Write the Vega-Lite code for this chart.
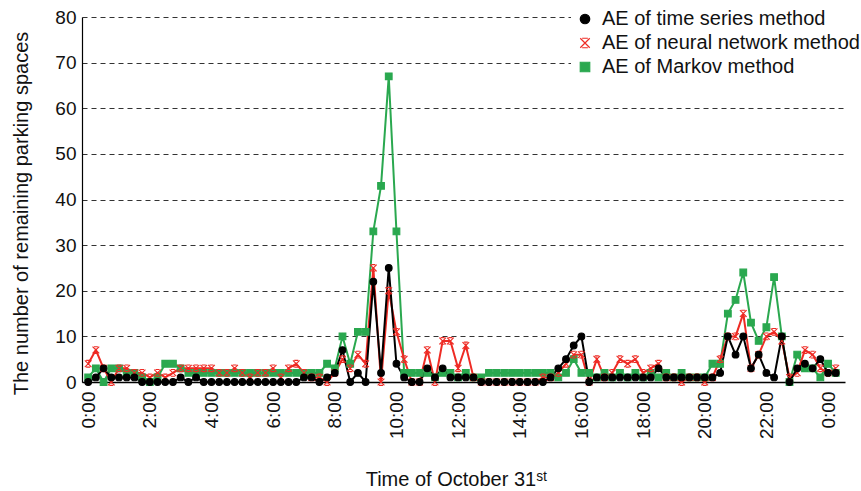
{
"$schema": "https://vega.github.io/schema/vega-lite/v6.json",
"width": 763, "height": 365,
"autosize": {"type": "none"},
"padding": {"left": 82, "top": 17, "right": 16, "bottom": 109},
"background": "white",
"config": {"view": {"stroke": null}, "font": "Liberation Sans",
  "axis": {"labelColor": "#111", "titleColor": "#111", "labelFont": "Liberation Sans", "titleFont": "Liberation Sans", "titleFontWeight": "normal"}},
"data": {"values": [
{"t":0,"m":"M","v":1},{"t":0.25,"m":"M","v":3},{"t":0.5,"m":"M","v":0},{"t":0.75,"m":"M","v":3},{"t":1,"m":"M","v":3},{"t":1.25,"m":"M","v":2},{"t":1.5,"m":"M","v":2},{"t":1.75,"m":"M","v":1},{"t":2,"m":"M","v":0},{"t":2.25,"m":"M","v":1},
{"t":2.5,"m":"M","v":4},{"t":2.75,"m":"M","v":4},{"t":3,"m":"M","v":3},{"t":3.25,"m":"M","v":2},{"t":3.5,"m":"M","v":2},{"t":3.75,"m":"M","v":2},{"t":4,"m":"M","v":2},{"t":4.25,"m":"M","v":2},{"t":4.5,"m":"M","v":2},{"t":4.75,"m":"M","v":2},
{"t":5,"m":"M","v":2},{"t":5.25,"m":"M","v":2},{"t":5.5,"m":"M","v":2},{"t":5.75,"m":"M","v":2},{"t":6,"m":"M","v":2},{"t":6.25,"m":"M","v":2},{"t":6.5,"m":"M","v":2},{"t":6.75,"m":"M","v":2},{"t":7,"m":"M","v":2},{"t":7.25,"m":"M","v":2},
{"t":7.5,"m":"M","v":2},{"t":7.75,"m":"M","v":4},{"t":8,"m":"M","v":3},{"t":8.25,"m":"M","v":10},{"t":8.5,"m":"M","v":4},{"t":8.75,"m":"M","v":11},{"t":9,"m":"M","v":11},{"t":9.25,"m":"M","v":33},{"t":9.5,"m":"M","v":43},{"t":9.75,"m":"M","v":67},
{"t":10,"m":"M","v":33},{"t":10.25,"m":"M","v":2},{"t":10.5,"m":"M","v":2},{"t":10.75,"m":"M","v":2},{"t":11,"m":"M","v":2},{"t":11.25,"m":"M","v":1},{"t":11.5,"m":"M","v":2},{"t":11.75,"m":"M","v":2},{"t":12,"m":"M","v":1},{"t":12.25,"m":"M","v":2},
{"t":12.5,"m":"M","v":1},{"t":12.75,"m":"M","v":1},{"t":13,"m":"M","v":2},{"t":13.25,"m":"M","v":2},{"t":13.5,"m":"M","v":2},{"t":13.75,"m":"M","v":2},{"t":14,"m":"M","v":2},{"t":14.25,"m":"M","v":2},{"t":14.5,"m":"M","v":2},{"t":14.75,"m":"M","v":2},
{"t":15,"m":"M","v":2},{"t":15.25,"m":"M","v":1},{"t":15.5,"m":"M","v":2},{"t":15.75,"m":"M","v":5},{"t":16,"m":"M","v":2},{"t":16.25,"m":"M","v":2},{"t":16.5,"m":"M","v":1},{"t":16.75,"m":"M","v":2},{"t":17,"m":"M","v":1},{"t":17.25,"m":"M","v":2},
{"t":17.5,"m":"M","v":1},{"t":17.75,"m":"M","v":2},{"t":18,"m":"M","v":1},{"t":18.25,"m":"M","v":2},{"t":18.5,"m":"M","v":1},{"t":18.75,"m":"M","v":2},{"t":19,"m":"M","v":1},{"t":19.25,"m":"M","v":2},{"t":19.5,"m":"M","v":1},{"t":19.75,"m":"M","v":1},
{"t":20,"m":"M","v":1},{"t":20.25,"m":"M","v":4},{"t":20.5,"m":"M","v":4},{"t":20.75,"m":"M","v":15},{"t":21,"m":"M","v":18},{"t":21.25,"m":"M","v":24},{"t":21.5,"m":"M","v":13},{"t":21.75,"m":"M","v":9},{"t":22,"m":"M","v":12},{"t":22.25,"m":"M","v":23},
{"t":22.5,"m":"M","v":10},{"t":22.75,"m":"M","v":0},{"t":23,"m":"M","v":6},{"t":23.25,"m":"M","v":3},{"t":23.5,"m":"M","v":3},{"t":23.75,"m":"M","v":1},{"t":24,"m":"M","v":4},{"t":24.25,"m":"M","v":2},
{"t":0,"m":"N","v":4},{"t":0.25,"m":"N","v":7},{"t":0.5,"m":"N","v":3},{"t":0.75,"m":"N","v":0},{"t":1,"m":"N","v":3},{"t":1.25,"m":"N","v":3},{"t":1.5,"m":"N","v":2},{"t":1.75,"m":"N","v":2},{"t":2,"m":"N","v":1},{"t":2.25,"m":"N","v":2},
{"t":2.5,"m":"N","v":1},{"t":2.75,"m":"N","v":2},{"t":3,"m":"N","v":3},{"t":3.25,"m":"N","v":3},{"t":3.5,"m":"N","v":3},{"t":3.75,"m":"N","v":3},{"t":4,"m":"N","v":3},{"t":4.25,"m":"N","v":2},{"t":4.5,"m":"N","v":2},{"t":4.75,"m":"N","v":3},
{"t":5,"m":"N","v":2},{"t":5.25,"m":"N","v":1},{"t":5.5,"m":"N","v":2},{"t":5.75,"m":"N","v":2},{"t":6,"m":"N","v":3},{"t":6.25,"m":"N","v":1},{"t":6.5,"m":"N","v":3},{"t":6.75,"m":"N","v":4},{"t":7,"m":"N","v":2},{"t":7.25,"m":"N","v":1},
{"t":7.5,"m":"N","v":1},{"t":7.75,"m":"N","v":0},{"t":8,"m":"N","v":2},{"t":8.25,"m":"N","v":5},{"t":8.5,"m":"N","v":3},{"t":8.75,"m":"N","v":6},{"t":9,"m":"N","v":4},{"t":9.25,"m":"N","v":25},{"t":9.5,"m":"N","v":0},{"t":9.75,"m":"N","v":20},
{"t":10,"m":"N","v":11},{"t":10.25,"m":"N","v":5},{"t":10.5,"m":"N","v":0},{"t":10.75,"m":"N","v":0},{"t":11,"m":"N","v":7},{"t":11.25,"m":"N","v":0},{"t":11.5,"m":"N","v":9},{"t":11.75,"m":"N","v":9},{"t":12,"m":"N","v":3},{"t":12.25,"m":"N","v":8},
{"t":12.5,"m":"N","v":1},{"t":12.75,"m":"N","v":0},{"t":13,"m":"N","v":0},{"t":13.25,"m":"N","v":0},{"t":13.5,"m":"N","v":0},{"t":13.75,"m":"N","v":0},{"t":14,"m":"N","v":0},{"t":14.25,"m":"N","v":0},{"t":14.5,"m":"N","v":0},{"t":14.75,"m":"N","v":1},
{"t":15,"m":"N","v":1},{"t":15.25,"m":"N","v":2},{"t":15.5,"m":"N","v":4},{"t":15.75,"m":"N","v":6},{"t":16,"m":"N","v":6},{"t":16.25,"m":"N","v":0},{"t":16.5,"m":"N","v":5},{"t":16.75,"m":"N","v":1},{"t":17,"m":"N","v":2},{"t":17.25,"m":"N","v":5},
{"t":17.5,"m":"N","v":4},{"t":17.75,"m":"N","v":5},{"t":18,"m":"N","v":2},{"t":18.25,"m":"N","v":3},{"t":18.5,"m":"N","v":4},{"t":18.75,"m":"N","v":1},{"t":19,"m":"N","v":1},{"t":19.25,"m":"N","v":0},{"t":19.5,"m":"N","v":1},{"t":19.75,"m":"N","v":1},
{"t":20,"m":"N","v":0},{"t":20.25,"m":"N","v":1},{"t":20.5,"m":"N","v":5},{"t":20.75,"m":"N","v":10},{"t":21,"m":"N","v":10},{"t":21.25,"m":"N","v":15},{"t":21.5,"m":"N","v":3},{"t":21.75,"m":"N","v":6},{"t":22,"m":"N","v":10},{"t":22.25,"m":"N","v":11},
{"t":22.5,"m":"N","v":9},{"t":22.75,"m":"N","v":1},{"t":23,"m":"N","v":2},{"t":23.25,"m":"N","v":7},{"t":23.5,"m":"N","v":6},{"t":23.75,"m":"N","v":3},{"t":24,"m":"N","v":2},{"t":24.25,"m":"N","v":3},
{"t":0,"m":"T","v":0},{"t":0.25,"m":"T","v":1},{"t":0.5,"m":"T","v":3},{"t":0.75,"m":"T","v":1},{"t":1,"m":"T","v":1},{"t":1.25,"m":"T","v":1},{"t":1.5,"m":"T","v":1},{"t":1.75,"m":"T","v":0},{"t":2,"m":"T","v":0},{"t":2.25,"m":"T","v":0},
{"t":2.5,"m":"T","v":0},{"t":2.75,"m":"T","v":0},{"t":3,"m":"T","v":1},{"t":3.25,"m":"T","v":0},{"t":3.5,"m":"T","v":1},{"t":3.75,"m":"T","v":0},{"t":4,"m":"T","v":0},{"t":4.25,"m":"T","v":0},{"t":4.5,"m":"T","v":0},{"t":4.75,"m":"T","v":0},
{"t":5,"m":"T","v":0},{"t":5.25,"m":"T","v":0},{"t":5.5,"m":"T","v":0},{"t":5.75,"m":"T","v":0},{"t":6,"m":"T","v":0},{"t":6.25,"m":"T","v":0},{"t":6.5,"m":"T","v":0},{"t":6.75,"m":"T","v":0},{"t":7,"m":"T","v":1},{"t":7.25,"m":"T","v":1},
{"t":7.5,"m":"T","v":0},{"t":7.75,"m":"T","v":1},{"t":8,"m":"T","v":2},{"t":8.25,"m":"T","v":7},{"t":8.5,"m":"T","v":0},{"t":8.75,"m":"T","v":2},{"t":9,"m":"T","v":0},{"t":9.25,"m":"T","v":22},{"t":9.5,"m":"T","v":2},{"t":9.75,"m":"T","v":25},
{"t":10,"m":"T","v":4},{"t":10.25,"m":"T","v":1},{"t":10.5,"m":"T","v":0},{"t":10.75,"m":"T","v":0},{"t":11,"m":"T","v":3},{"t":11.25,"m":"T","v":1},{"t":11.5,"m":"T","v":3},{"t":11.75,"m":"T","v":1},{"t":12,"m":"T","v":1},{"t":12.25,"m":"T","v":1},
{"t":12.5,"m":"T","v":1},{"t":12.75,"m":"T","v":0},{"t":13,"m":"T","v":0},{"t":13.25,"m":"T","v":0},{"t":13.5,"m":"T","v":0},{"t":13.75,"m":"T","v":0},{"t":14,"m":"T","v":0},{"t":14.25,"m":"T","v":0},{"t":14.5,"m":"T","v":0},{"t":14.75,"m":"T","v":0},
{"t":15,"m":"T","v":1},{"t":15.25,"m":"T","v":3},{"t":15.5,"m":"T","v":5},{"t":15.75,"m":"T","v":8},{"t":16,"m":"T","v":10},{"t":16.25,"m":"T","v":0},{"t":16.5,"m":"T","v":1},{"t":16.75,"m":"T","v":1},{"t":17,"m":"T","v":1},{"t":17.25,"m":"T","v":1},
{"t":17.5,"m":"T","v":1},{"t":17.75,"m":"T","v":1},{"t":18,"m":"T","v":1},{"t":18.25,"m":"T","v":1},{"t":18.5,"m":"T","v":3},{"t":18.75,"m":"T","v":1},{"t":19,"m":"T","v":1},{"t":19.25,"m":"T","v":1},{"t":19.5,"m":"T","v":1},{"t":19.75,"m":"T","v":1},
{"t":20,"m":"T","v":1},{"t":20.25,"m":"T","v":1},{"t":20.5,"m":"T","v":2},{"t":20.75,"m":"T","v":10},{"t":21,"m":"T","v":6},{"t":21.25,"m":"T","v":10},{"t":21.5,"m":"T","v":3},{"t":21.75,"m":"T","v":6},{"t":22,"m":"T","v":2},{"t":22.25,"m":"T","v":1},
{"t":22.5,"m":"T","v":10},{"t":22.75,"m":"T","v":0},{"t":23,"m":"T","v":3},{"t":23.25,"m":"T","v":4},{"t":23.5,"m":"T","v":3},{"t":23.75,"m":"T","v":5},{"t":24,"m":"T","v":2},{"t":24.25,"m":"T","v":2}
]},
"encoding": {
  "x": {"field": "t", "type": "quantitative", "scale": {"domain": [-0.2, 24.55], "nice": false, "zero": false},
    "axis": {"values": [0,2,4,6,8,10,12,14,16,18,20,22,24], "labelExpr": "(datum.value % 24) + ':00'", "labelAngle": -90, "grid": false, "ticks": false, "domainColor": "#000", "domainWidth": 1.5, "labelFontSize": 19, "labelPadding": 9, "title": "Time of October 31ˢᵗ", "titleFontSize": 20, "titlePadding": 31, "titleX": 374}},
  "y": {"field": "v", "type": "quantitative", "scale": {"domain": [0, 80], "nice": false},
    "axis": {"values": [0,10,20,30,40,50,60,70,80], "grid": true, "gridDash": [5,4], "gridColor": "#333", "gridWidth": 1.2, "ticks": false, "domainColor": "#000", "domainWidth": 1.2, "labelFontSize": 19, "labelPadding": 6, "title": "The number of remaining parking spaces", "titleFontSize": 20, "titlePadding": 23, "titleY": 196}},
  "color": {"field": "m", "type": "nominal", "scale": {"domain": ["T","N","M"], "range": ["#000000","#ee2b24","#2aa84f"]},
    "legend": {"orient": "none", "legendX": 489, "legendY": -12, "title": null, "labelFontSize": 20, "labelFont": "Liberation Sans", "labelColor": "#111", "symbolSize": 90, "rowPadding": 4, "fillColor": "white", "padding": 4, "labelOffset": 7, "labelLimit": 400, "symbolStrokeWidth": 1.2,
      "labelExpr": "datum.label == 'T' ? 'AE of time series method' : datum.label == 'N' ? 'AE of neural network method' : 'AE of Markov method'"}}
},
"layer": [
  {"mark": {"type": "line", "strokeWidth": 2}},
  {"mark": {"type": "point", "filled": true, "size": 45, "strokeWidth": 1.1, "opacity": 1},
   "encoding": {
     "shape": {"field": "m", "type": "nominal", "scale": {"domain": ["T","N","M"], "range": ["circle", "M-1,-1L1,1M-1,1L1,-1M-0.6,-1L0.6,-1M-0.6,1L0.6,1", "square"]},
       "legend": {"orient": "none", "legendX": 489, "legendY": -12, "title": null, "labelFontSize": 20, "labelFont": "Liberation Sans", "labelColor": "#111", "symbolSize": 90, "rowPadding": 4, "fillColor": "white", "padding": 4, "labelOffset": 7, "labelLimit": 400, "symbolStrokeWidth": 1.2,
         "labelExpr": "datum.label == 'T' ? 'AE of time series method' : datum.label == 'N' ? 'AE of neural network method' : 'AE of Markov method'"}},
     "stroke": {"field": "m", "type": "nominal", "scale": {"domain": ["T","N","M"], "range": ["#000000","#ee2b24","#2aa84f"]},
       "legend": {"orient": "none", "legendX": 489, "legendY": -12, "title": null, "labelFontSize": 20, "labelFont": "Liberation Sans", "labelColor": "#111", "symbolSize": 90, "rowPadding": 4, "fillColor": "white", "padding": 4, "labelOffset": 7, "labelLimit": 400, "symbolStrokeWidth": 1.2,
         "labelExpr": "datum.label == 'T' ? 'AE of time series method' : datum.label == 'N' ? 'AE of neural network method' : 'AE of Markov method'"}}
   }}
]
}
